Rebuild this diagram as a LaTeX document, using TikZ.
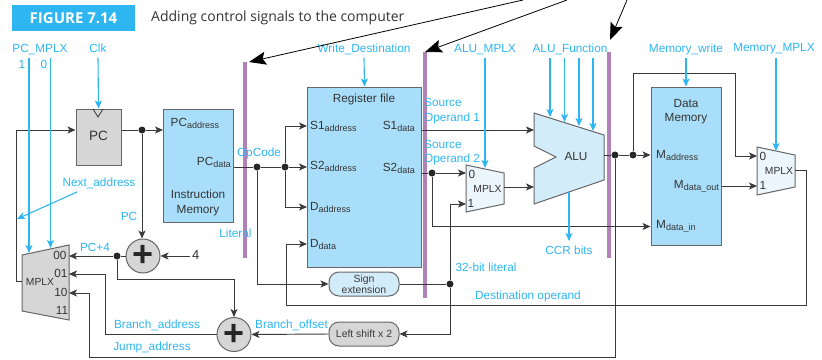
\documentclass[tikz,border=0pt]{standalone}
\usepackage{fontspec}
\setmainfont{Liberation Sans}
\newfontfamily\captionfont{Open Sans}
\usetikzlibrary{arrows.meta,calc}
\definecolor{sigblue}{HTML}{2DB6F2}
\definecolor{barpurple}{HTML}{B281B8}
\definecolor{wiregray}{HTML}{3A3A3A}
\definecolor{edgegray}{HTML}{666666}
\definecolor{blockblue}{HTML}{A9DEFA}
\definecolor{paleblue}{HTML}{D3ECFA}
\definecolor{faintblue}{HTML}{EBF6FD}
\definecolor{blockgray}{HTML}{D6D6D6}
\newcommand{\lowtxt}[1]{\raisebox{-2.5pt}{\fontsize{9}{9}\selectfont #1}}

\begin{document}
\begin{tikzpicture}[x=1pt, y=-1pt, >={Stealth[length=8pt,width=7pt,inset=2pt]},
          every node/.style={font=\fontsize{11.8}{13}\selectfont, inner sep=0pt},
          sig/.style={text=sigblue, text height=8.5pt, text depth=2.5pt},
          txt/.style={text=wiregray!90!black, text height=8.5pt, text depth=2.5pt},
          wire/.style={draw=wiregray, line width=0.95pt},
          sigline/.style={draw=sigblue, line width=1.1pt, ->},
          bigarrow/.style={draw=black, line width=0.8pt, -{Stealth[length=17pt,width=13pt,inset=3pt]}},
          bar/.style={fill=barpurple},
          block/.style={rectangle, draw=edgegray, line width=1pt, fill=blockblue},
          muxshape/.style={draw=edgegray, line width=1pt},
          junction/.style={circle, fill=black!85, minimum size=7pt},
          adder/.style={circle, draw=edgegray, line width=1pt, fill=blockgray, minimum size=34pt,
            font=\fontsize{36}{36}\bfseries\selectfont, text=black!85},
          pill/.style={rectangle, rounded corners=10pt, draw=edgegray, line width=1pt,
            minimum width=70pt, minimum height=24pt, align=center, text=wiregray,
            font=\fontsize{10.4}{10.8}\selectfont}]

  \useasboundingbox (0,0) rectangle (822,359);

  % heading
  \node[fill=sigblue, minimum width=123pt, minimum height=26pt, text=white,
    font=\captionfont\fontsize{15}{16}\bfseries\selectfont] (figno) at (73.5,18) {FIGURE 7.14};
  \node[anchor=west, text=black!80, font=\captionfont\fontsize{14}{15}\selectfont] (figtitle) at (151,18)
    {Adding control signals to the computer};

  % pipeline bars
  \fill[bar] (243,62) rectangle (247,258);
  \fill[bar] (423,52) rectangle (427,298);
  \fill[bar] (606.5,52) rectangle (610.5,258);

  % blocks
  \node[rectangle, draw=edgegray, line width=1pt, fill=blockgray, minimum width=45pt, minimum height=56pt] (pc) at (98.5,137) {};
  \node[block, minimum width=70pt, minimum height=113pt] (imem) at (198.5,165.5) {};
  \node[block, minimum width=114pt, minimum height=180pt] (regs) at (364.5,177) {};
  \node[block, minimum width=70pt, minimum height=158pt] (dmem) at (686,166) {};
  \node[pill, fill=paleblue] (signext) at (364,284) {Sign\\extension};
  \node[pill, fill=blockgray] (shift) at (364,334) {Left shift x 2};
  \node[adder] (add1) at (143,256) {+};
  \node[adder] (add2) at (234,334.5) {+};
  \draw[wiregray, line width=0.8pt] (93,109) -- (98,117) -- (103,109);

  % multiplexers and ALU
  \draw[muxshape, fill=blockgray] (22,255) -- (69,245) -- (69,320) -- (22,311) -- cycle;
  \draw[muxshape, fill=faintblue] (466,165) -- (504,173) -- (504,204) -- (466,212) -- cycle;
  \draw[muxshape, fill=faintblue] (757,147) -- (795,155) -- (795,187) -- (757,195) -- cycle;
  \draw[muxshape, fill=paleblue] (534,113) -- (604,135) -- (604,180) -- (534,204) -- (534,168) -- (556,157) -- (534,146) -- cycle;

  % junctions and ports
  \node[junction] (pcdot) at (142,130) {};
  \node[junction] (incdot) at (117,256) {};
  \node[junction] (datadot) at (257,167) {};
  \node[junction] (regdot) at (285,167) {};
  \node[junction] (s2dot) at (432,173) {};
  \node[junction] (litdot) at (450,284) {};
  \node[junction] (aludot) at (615,155) {};
  \node[junction] (addrdot) at (633,155) {};
  \coordinate (muxback) at (22,281);
  \coordinate (mux00) at (69,256);
  \coordinate (mux01) at (69,274);
  \coordinate (mux10) at (69,293);
  \coordinate (alua) at (534,130);
  \coordinate (alub) at (534,187);
  \coordinate (aluout) at (604,155);
  \coordinate (alubot) at (569,192);
  \coordinate (opmuxa) at (466,173);
  \coordinate (opmuxb) at (466,204);
  \coordinate (opmuxout) at (504,187);
  \coordinate (memmuxa) at (757,156);
  \coordinate (memmuxb) at (757,186);
  \coordinate (memmuxout) at (795,170);
  \coordinate (four) at (190,256);

  % data wires
  \draw[wire,->] (muxback) -- (16,281) -- (16,130) -- (pc.west |- pcdot);
  \draw[wire] (pc.east |- pcdot) -- (pcdot);
  \draw[wire,->] (pcdot) -- (imem.west |- pcdot);
  \draw[wire,->] (pcdot) -- (add1.north -| pcdot);
  \draw[wire] (add1.west) -- (incdot);
  \draw[wire,->] (incdot) -- (mux00);
  \draw[wire,->] (four) -- (add1.east);
  \draw[wire,->] (incdot) |- (234,279) -- (add2.north);
  \draw[wire,->] (add2.west) -- (105,334.5) |- (mux01);
  \draw[wire,->] (aludot) -- (615,357) -- (89,357) |- (mux10);
  \draw[wire] (imem.east |- datadot) -- (datadot) -- (regdot);
  \draw[wire,->] (regdot) -- (regs.west |- regdot);
  \draw[wire,->] (regdot) |- (regs.west |- 0,126);
  \draw[wire,->] (regdot) |- (regs.west |- 0,207);
  \draw[wire,->] (datadot) |- (signext.west);
  \draw[wire] (signext.east) -- (litdot);
  \draw[wire,->] (litdot) |- (opmuxb);
  \draw[wire,->] (litdot) |- (shift.east);
  \draw[wire,->] (shift.west) -- (add2.east);
  \draw[wire,->] (regs.east |- alua) -- (alua);
  \draw[wire] (regs.east |- s2dot) -- (s2dot);
  \draw[wire,->] (s2dot) -- (opmuxa);
  \draw[wire,->] (s2dot) |- (dmem.west |- 0,226.5);
  \draw[wire,->] (opmuxout) -- (alub);
  \draw[wire] (aluout) -- (aludot) -- (addrdot);
  \draw[wire,->] (addrdot) -- (dmem.west |- addrdot);
  \draw[wire,->] (addrdot) |- (735,73) |- (memmuxa);
  \draw[wire,->] (dmem.east |- memmuxb) -- (memmuxb);
  \draw[wire,->] (memmuxout) -- (806,170) |- (286,305) |- (regs.west |- 0,244);

  % control signals
  \node[sig] (pcmplxlabel) at (40,49) {PC\_MPLX};
  \node[sig] (sel1) at (22,65) {1};
  \node[sig] (sel0) at (44,65) {0};
  \node[sig] (clklabel) at (98,49) {Clk};
  \node[sig] (writelabel) at (364,49) {Write\_Destination};
  \node[sig] (alumuxlabel) at (485,49) {ALU\_MPLX};
  \node[sig] (alufnlabel) at (570,49) {ALU\_Function};
  \node[sig] (memwritelabel) at (686,49) {Memory\_write};
  \node[sig] (memmuxlabel) at (774,48) {Memory\_MPLX};
  \node[sig] (nextlabel) at (99,183) {Next\_address};
  \coordinate (from1) at (29,58);
  \coordinate (to1) at (29,253);
  \coordinate (from0) at (50.5,58);
  \coordinate (to0) at (50.5,248);
  \coordinate (nextfrom) at (77,192);
  \coordinate (nextto) at (17,219);
  \coordinate (opfrom) at (485,58);
  \coordinate (opto) at (485,168);
  \coordinate (memfrom) at (776,58);
  \coordinate (memto) at (776,151);
  \coordinate (ccrto) at (569,241);
  \draw[sigline] (from1) -- (to1);
  \draw[sigline] (from0) -- (to0);
  \draw[sigline] (nextfrom) -- (nextto);
  \draw[sigline] (clklabel.south) ++(0,3) -- (pc.north);
  \draw[sigline] (writelabel.south) ++(0,3) -- (regs.north);
  \draw[sigline] (memwritelabel.south) ++(0,3) -- (dmem.north);
  \draw[sigline] (opfrom) -- (opto);
  \draw[sigline] (memfrom) -- (memto);
  \draw[sigline] (alubot) -- (ccrto);
  \foreach \i/\xpos/\ytip in {1/550/117,2/564.5/122,3/579/126,4/593/131} {
    \coordinate (fnfrom\i) at (\xpos,58);
    \coordinate (fnto\i) at (\xpos,\ytip);
    \draw[sigline] (fnfrom\i) -- (fnto\i);
  }

  % big arrows
  \coordinate (big1from) at (523,0);
  \coordinate (big1to) at (249,62);
  \coordinate (big2from) at (567,0);
  \coordinate (big2to) at (425,52);
  \coordinate (big3from) at (627,0);
  \coordinate (big3to) at (610,40);
  \draw[bigarrow] (big1from) -- (big1to);
  \draw[bigarrow] (big2from) -- (big2to);
  \draw[bigarrow] (big3from) -- (big3to);

  % signal names
  \node[sig] (pclabel) at (129,217) {PC};
  \node[sig] (pcfourlabel) at (95,248) {PC+4};
  \node[sig] (branchlabel) at (157,325) {Branch\_address};
  \node[sig] (jumplabel) at (152,347) {Jump\_address};
  \node[sig] (offsetlabel) at (291.5,325) {Branch\_offset};
  \node[sig] (literallabel) at (235.5,234) {Literal};
  \node[sig] (opcodelabel) at (259,153) {OpCode};
  \node[sig, anchor=west] (src1a) at (424,103.5) {Source};
  \node[sig, anchor=west] (src1b) at (424,118) {Operand 1};
  \node[sig, anchor=west] (src2a) at (424,145) {Source};
  \node[sig, anchor=west] (src2b) at (424,159) {Operand 2};
  \node[sig] (ccrlabel) at (569,251) {CCR bits};
  \node[sig] (bitlabel) at (486,268) {32-bit literal};
  \node[sig] (destlabel) at (528,296) {Destination operand};

  % block text
  \node[txt] (pctext) at (98.5,137) {\fontsize{13.5}{15}\selectfont PC};
  \node[txt, anchor=west] (pcaddr) at (170.5,123) {PC\lowtxt{address}};
  \node[txt, anchor=east] (pcdata) at (231,162) {PC\lowtxt{data}};
  \node[txt] (imem1) at (198,195) {Instruction};
  \node[txt] (imem2) at (198,210) {Memory};
  \node[txt] (regtitle) at (364,99) {Register file};
  \node[txt, anchor=west] (s1addr) at (310,126) {S1\lowtxt{address}};
  \node[txt, anchor=west] (s2addr) at (310,166) {S2\lowtxt{address}};
  \node[txt, anchor=west] (daddr) at (310,207) {D\lowtxt{address}};
  \node[txt, anchor=west] (ddata) at (310,244) {D\lowtxt{data}};
  \node[txt, anchor=east] (s1data) at (415,126) {S1\lowtxt{data}};
  \node[txt, anchor=east] (s2data) at (415,168) {S2\lowtxt{data}};
  \node[txt] (alutext) at (576,157) {ALU};
  \node[txt] (mem1) at (686,104) {Data};
  \node[txt] (mem2) at (686,118) {Memory};
  \node[txt, anchor=west] (maddr) at (656,155) {M\lowtxt{address}};
  \node[txt, anchor=east] (mout) at (719,185) {M\lowtxt{data\_out}};
  \node[txt, anchor=west] (min) at (656,225) {M\lowtxt{data\_in}};
  \node[txt, font=\fontsize{10.3}{11}\selectfont] (muxtext1) at (40,282) {MPLX};
  \node[txt] (in00) at (60,256) {00};
  \node[txt] (in01) at (61,274) {01};
  \node[txt] (in10) at (61,293) {10};
  \node[txt] (in11) at (62,311) {11};
  \node[txt, font=\fontsize{10.3}{11}\selectfont] (muxtext2) at (487.5,189) {MPLX};
  \node[txt] (op0) at (472,175) {0};
  \node[txt] (op1) at (471,204) {1};
  \node[txt, font=\fontsize{10.3}{11}\selectfont] (muxtext3) at (779,171) {MPLX};
  \node[txt] (mem0) at (763,157) {0};
  \node[txt] (mem1b) at (763,186) {1};
  \node[txt, anchor=west, font=\fontsize{13}{14}\selectfont] (fourtext) at (192,256) {4};
\end{tikzpicture}
\end{document}
